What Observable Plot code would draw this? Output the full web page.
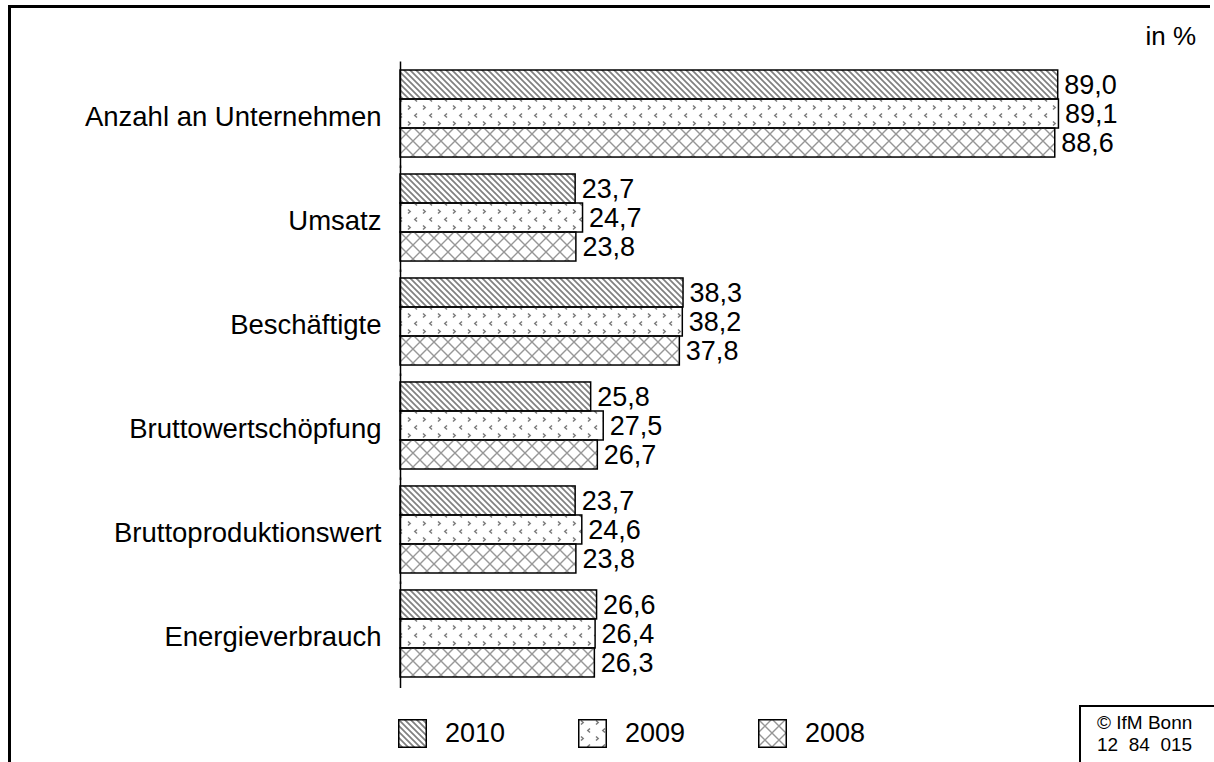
<!DOCTYPE html>
<html>
<head>
<meta charset="utf-8">
<script src="https://cdn.jsdelivr.net/npm/d3@7"></script>
<script src="https://cdn.jsdelivr.net/npm/@observablehq/plot@0.6"></script>
<style>
  html, body { margin: 0; padding: 0; background: #fff; }
  #page { position: relative; width: 1214px; height: 762px; overflow: hidden; font-family: "Liberation Sans", Arial, sans-serif; color: #000; }
  #border { position: absolute; left: 8px; top: 5px; width: 1199px; height: 800px; border-top: 3px solid #000; border-left: 3px solid #000; }
  #chart { position: absolute; left: 0; top: 0; }
  #unit { position: absolute; right: 18px; top: 21px; font-size: 26px; }
  #legend { position: absolute; left: 0; top: 719px; }
  .item { position: absolute; top: 0; height: 29px; display: flex; align-items: center; white-space: nowrap; font-size: 27px; }
  .item svg { margin-right: 18px; }
  #copy { position: absolute; left: 1079px; top: 705px; width: 140px; height: 70px; border-left: 2px solid #000; border-top: 2px solid #000; font-size: 19px; line-height: 22px; padding: 5px 0 0 16px; box-sizing: border-box; }
</style>
</head>
<body>
<div id="page">
  <svg width="0" height="0" style="position:absolute">
    <defs>
      <pattern id="p2010" patternUnits="userSpaceOnUse" width="6" height="6">
        <path d="M-1,-1 L7,7 M-1,5 L1,7 M5,-1 L7,1" stroke="#808080" stroke-width="1.7" fill="none"/>
      </pattern>
      <pattern id="p2009" patternUnits="userSpaceOnUse" width="15" height="16">
        <path d="M3,1.5 L5.2,3.5 L3,5.5 M12,9.5 L9.8,11.5 L12,13.5" stroke="#7a7a7a" stroke-width="1.5" fill="none"/>
      </pattern>
      <pattern id="p2008" patternUnits="userSpaceOnUse" width="14" height="14">
        <path d="M0,0 L14,14 M14,0 L0,14" stroke="#969696" stroke-width="1.4" fill="none"/>
      </pattern>
    </defs>
  </svg>
  <div id="border"></div>
  <div id="unit">in %</div>
  <div id="chart"></div>
  <div id="legend"></div>
  <div id="copy">© IfM Bonn<br>12&nbsp;&nbsp;84&nbsp;&nbsp;015</div>
</div>
<script>
const categories = ["Anzahl an Unternehmen", "Umsatz", "Beschäftigte", "Bruttowertschöpfung", "Bruttoproduktionswert", "Energieverbrauch"];
const years = ["2010", "2009", "2008"];
const v2010 = [89.0, 23.7, 38.3, 25.8, 23.7, 26.6];
const v2009 = [89.1, 24.7, 38.2, 27.5, 24.6, 26.4];
const v2008 = [88.6, 23.8, 37.8, 26.7, 23.8, 26.3];
const seriesValues = {"2010": v2010, "2009": v2009, "2008": v2008};

const data = [];
categories.forEach((c, i) => {
  years.forEach(y => data.push({category: c, year: y, value: seriesValues[y][i]}));
});
const fmt = v => v.toFixed(1).replace(".", ",");
const patternFor = y => `url(#p${y})`;

const chart = Plot.plot({
  width: 1214,
  height: 700,
  marginTop: 62,
  marginBottom: 15,
  marginLeft: 400,
  marginRight: 75,
  style: {fontFamily: "'Liberation Sans', Arial, sans-serif", fontSize: "27px", background: "transparent", overflow: "visible"},
  x: {domain: [0, 100], axis: null},
  y: {domain: years, padding: 0, round: false, axis: null},
  fy: {domain: categories, paddingInner: 0.163, paddingOuter: 0.077, round: false, axis: null, label: null},
  color: {type: "ordinal", domain: years, range: years.map(patternFor)},
  marks: [
    Plot.axisFy({anchor: "left", tickSize: 0, tickPadding: 19, label: null, dy: 3, fontSize: 27.5, fill: "#000"}),
    Plot.barX(data, {x: "value", y: "year", fy: "category", fill: "year", stroke: "#000", strokeWidth: 1.5}),
    Plot.text(data, {x: "value", y: "year", fy: "category", text: d => fmt(d.value), textAnchor: "start", dx: 6, fill: "#000"}),
    Plot.ruleX([0], {stroke: "#000", strokeWidth: 1.5, insetTop: -8.5, insetBottom: -11})
  ]
});
document.getElementById("chart").appendChild(chart);

const legend = document.getElementById("legend");
years.forEach((y, i) => {
  const item = document.createElement("div");
  item.className = "item";
  item.style.left = (398 + 180 * i) + "px";
  item.innerHTML = `<svg width="29" height="29"><rect x="0.75" y="0.75" width="27.5" height="27.5" fill="${patternFor(y)}" stroke="#000" stroke-width="1.5"/></svg><span>${y}</span>`;
  legend.appendChild(item);
});
</script>
</body>
</html>
